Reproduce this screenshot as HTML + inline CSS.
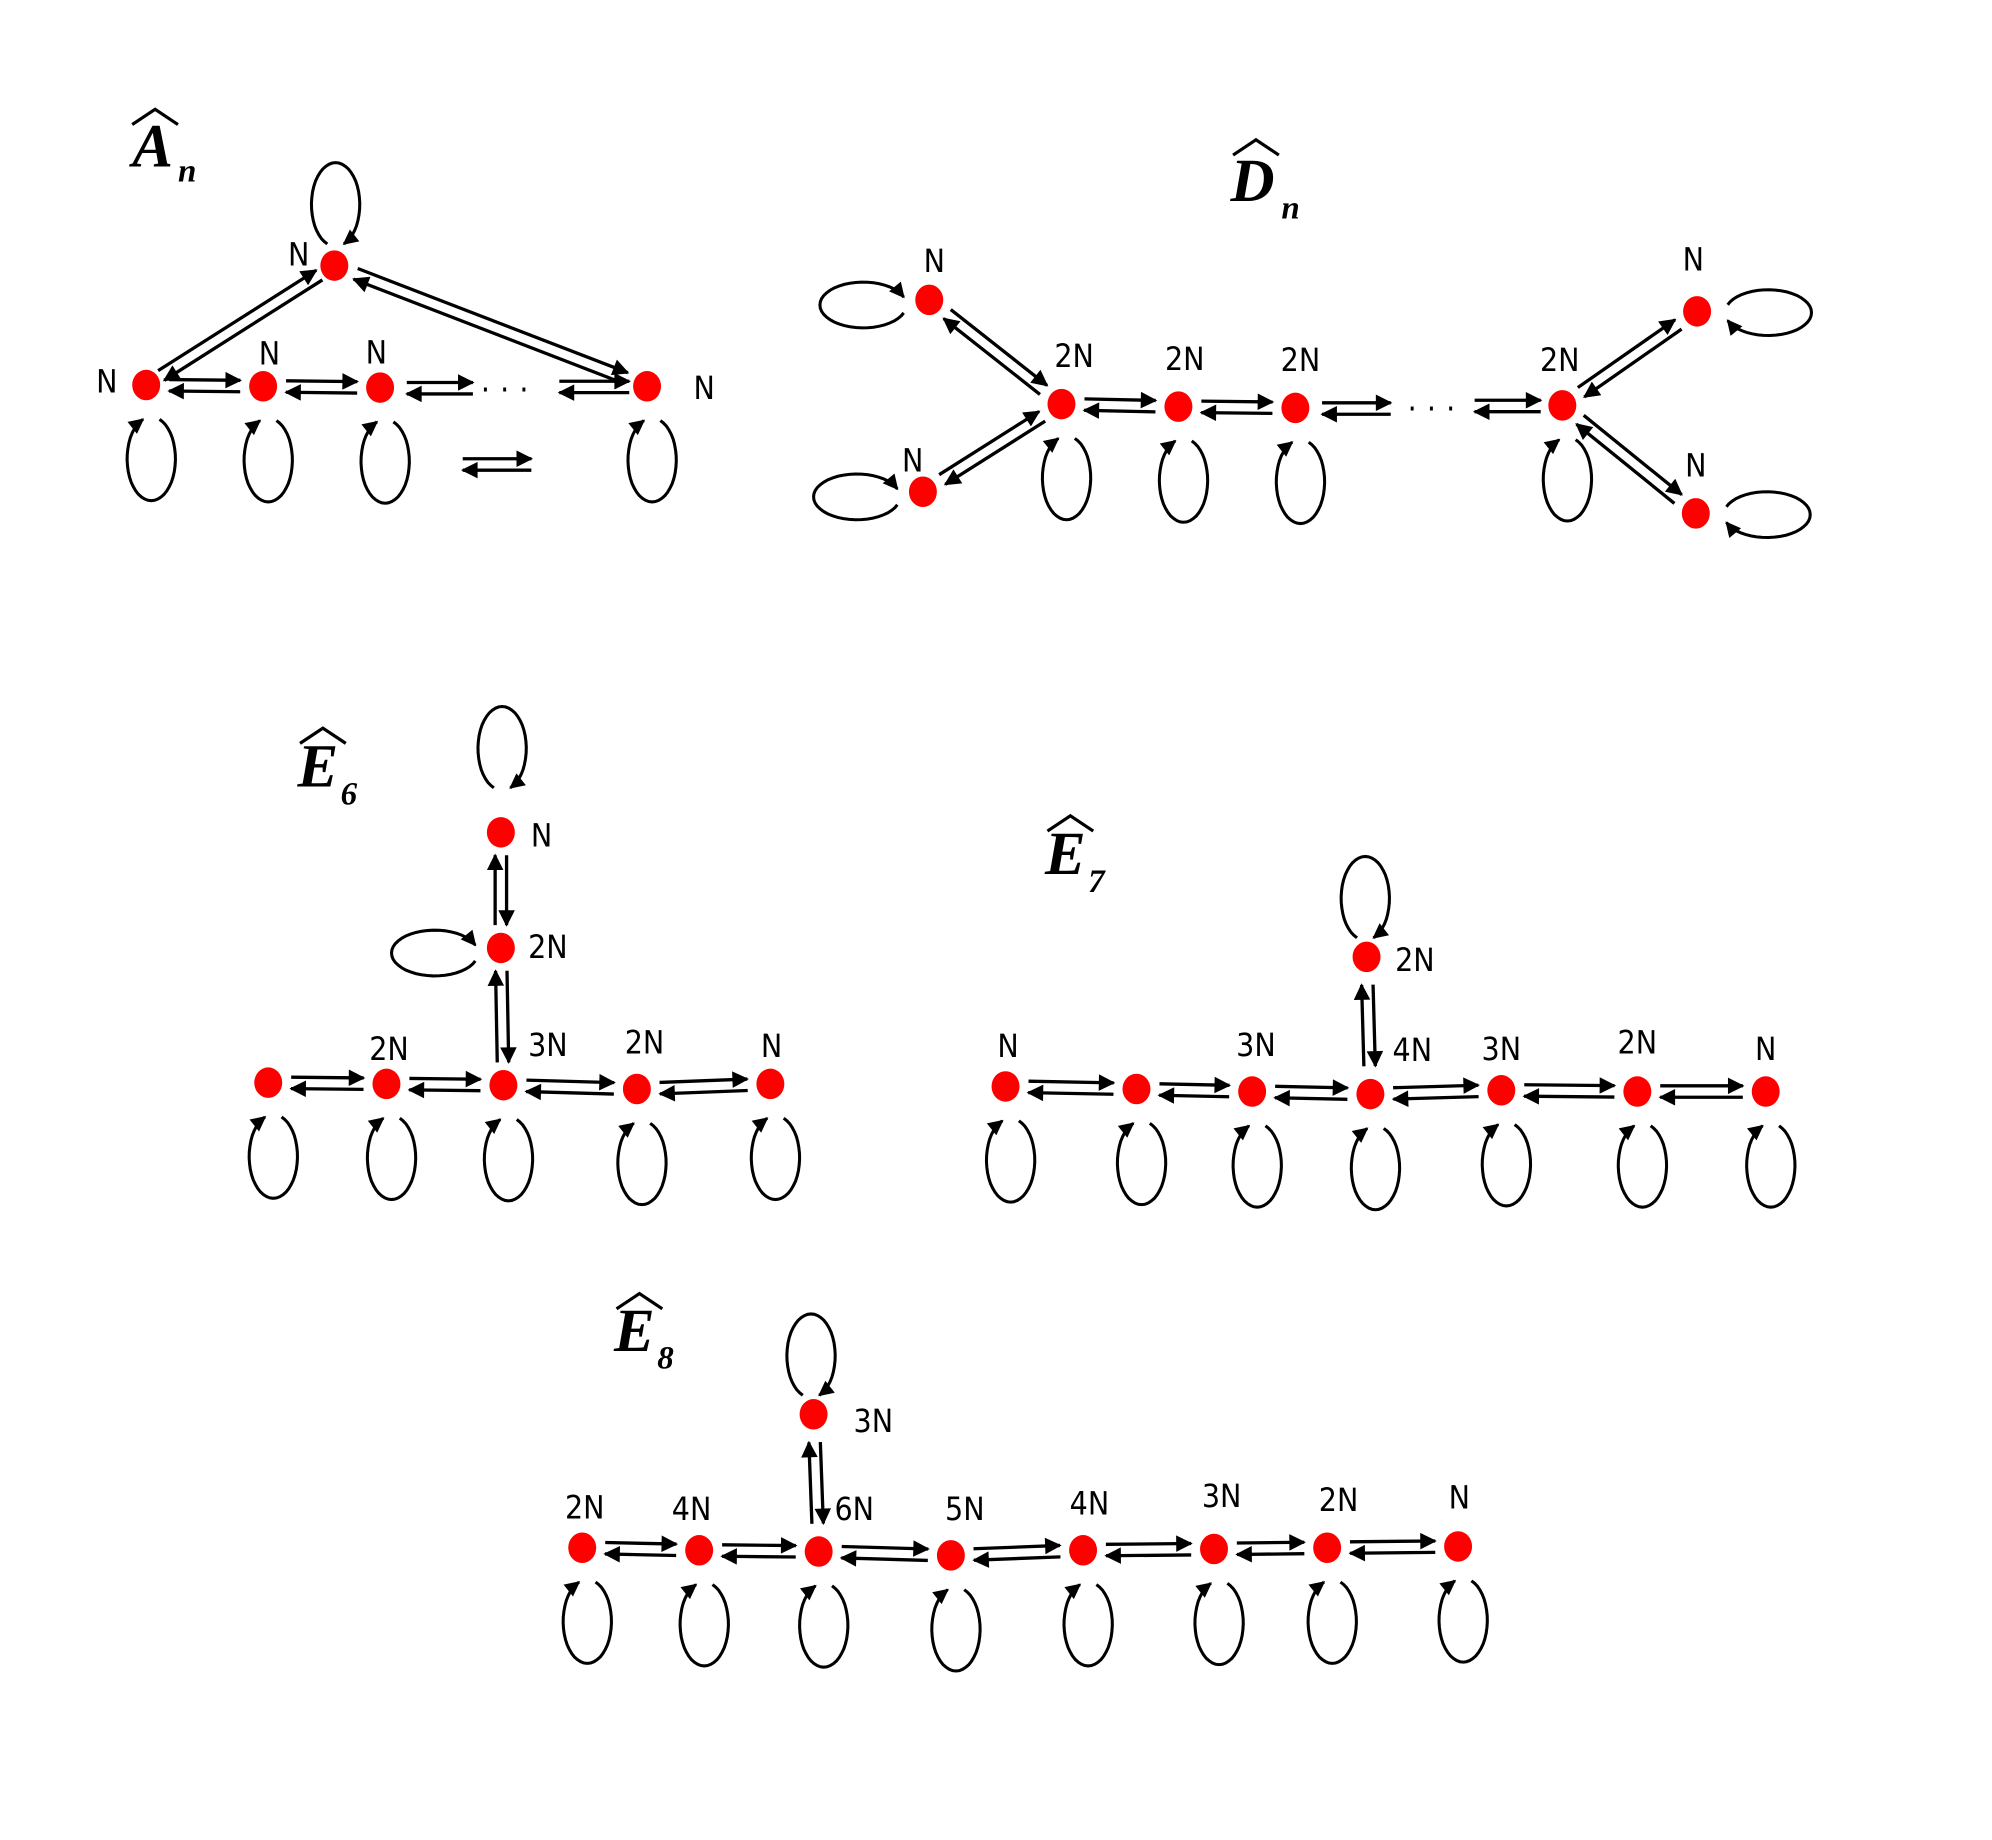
<!DOCTYPE html>
<html><head><meta charset="utf-8"><style>
html,body{margin:0;padding:0;background:#fff;}
svg{display:block}
.l{font-family:"DejaVu Sans Condensed","Liberation Sans Narrow","Liberation Sans",sans-serif;font-size:25px;fill:#000;text-anchor:middle}
.t{font-family:"Liberation Serif",serif;font-weight:bold;font-style:italic;font-size:48px;fill:#000}
.s{font-family:"Liberation Serif",serif;font-style:italic;font-weight:bold;font-size:26px;fill:#000}
</style></head><body>
<svg id="g" width="1992" height="1840" viewBox="0 0 1567 1448" preserveAspectRatio="none" xmlns="http://www.w3.org/2000/svg">
<defs><marker id="a" viewBox="0 0 10 10" refX="9" refY="5" markerWidth="6" markerHeight="5" markerUnits="strokeWidth" orient="auto"><path d="M0,0L10,5L0,10z" fill="#000"/></marker></defs>
<g fill="none" stroke="#000">
<path d="M104,98 L122,86 L140,98" stroke-width="2.5"/>
<path d="M970,122 L988,110 L1006,122" stroke-width="2.5"/>
<path d="M236,585 L254,573 L272,585" stroke-width="2.5"/>
<path d="M824,654 L842,642 L860,654" stroke-width="2.5"/>
<path d="M485,1030 L503,1018 L521,1030" stroke-width="2.5"/>
</g>
<text class="t" x="104" y="131">A</text><text class="s" x="140" y="143">n</text>
<text class="t" x="968" y="158">D</text><text class="s" x="1008" y="172">n</text>
<text class="t" x="234" y="619">E</text><text class="s" x="268" y="633">6</text>
<text class="t" x="822" y="688">E</text><text class="s" x="856" y="702">7</text>
<text class="t" x="483" y="1063">E</text><text class="s" x="517" y="1077">8</text>
<text class="l" x="235" y="209">N</text><text class="l" x="84" y="309">N</text><text class="l" x="212" y="287">N</text><text class="l" x="296" y="286">N</text><text class="l" x="554" y="314">N</text>
<text class="l" x="401" y="315" style="letter-spacing:8px">···</text>
<text class="l" x="735" y="214">N</text><text class="l" x="718" y="371">N</text>
<text class="l" x="845" y="289">2N</text><text class="l" x="932" y="291">2N</text><text class="l" x="1023" y="292">2N</text><text class="l" x="1227" y="292">2N</text>
<text class="l" x="1332" y="213">N</text><text class="l" x="1334" y="375">N</text>
<text class="l" x="1130" y="330" style="letter-spacing:8px">···</text>
<text class="l" x="426" y="666">N</text><text class="l" x="431" y="754">2N</text>
<text class="l" x="306" y="834">2N</text><text class="l" x="431" y="831">3N</text><text class="l" x="507" y="829">2N</text><text class="l" x="607" y="832">N</text>
<text class="l" x="793" y="832">N</text><text class="l" x="988" y="831">3N</text><text class="l" x="1111" y="835">4N</text><text class="l" x="1181" y="834">3N</text><text class="l" x="1288" y="829">2N</text><text class="l" x="1389" y="834">N</text><text class="l" x="1113" y="764">2N</text>
<text class="l" x="460" y="1195">2N</text><text class="l" x="544" y="1196">4N</text><text class="l" x="672" y="1196">6N</text><text class="l" x="759" y="1196">5N</text><text class="l" x="857" y="1192">4N</text><text class="l" x="961" y="1186">3N</text><text class="l" x="1053" y="1189">2N</text><text class="l" x="1148" y="1187">N</text><text class="l" x="687" y="1127">3N</text>
</svg>
<script>
var S=document.getElementById('g'),NS='http://www.w3.org/2000/svg';
function el(t,a){var e=document.createElementNS(NS,t);for(var k in a)e.setAttribute(k,a[k]);S.appendChild(e);return e;}
function ln(x1,y1,x2,y2){el('path',{d:'M'+x1+','+y1+'L'+x2+','+y2,stroke:'#000','stroke-width':2.6,fill:'none','marker-end':'url(#a)'});}
function pr(x1,y1,x2,y2,g){g=g||18;var dx=x2-x1,dy=y2-y1,L=Math.hypot(dx,dy),ux=dx/L,uy=dy/L,px=-uy*4.5,py=ux*4.5;
var ax=x1+ux*g,ay=y1+uy*g,bx=x2-ux*g,by=y2-uy*g;
ln(ax-px,ay-py,bx-px,by-py);ln(bx+px,by+py,ax+px,ay+py);}
function lp(cx,cy,rx,ry,a0,a1){a0*=Math.PI/180;a1*=Math.PI/180;var n=40,d='';for(var i=0;i<=n;i++){var a=a0+(a1-a0)*i/n;d+=(i?'L':'M')+(cx+rx*Math.cos(a)).toFixed(1)+','+(cy+ry*Math.sin(a)).toFixed(1);}
el('path',{d:d,stroke:'#000','stroke-width':2.4,fill:'none','marker-end':'url(#a)'});}
function below(x,y){lp(x+4,y+58,19,33,-70,250);}
function above(x,y,o){lp(x+1,y-(o||50),19,33,110,430);}
function left(x,y){lp(x-52,y+4,34,18,20,340);}
function right(x,y){lp(x+56,y+1,34,18,200,520);}
var N=[];function nd(x,y){N.push([x,y]);}
nd(263,209);nd(115,303);nd(207,304);nd(299,305);nd(509,304);
pr(115,303,263,209,14);pr(263,209,509,304,18);
pr(115,303,207,304);pr(207,304,299,305);
ln(320,301,372,301);ln(372,310,320,310);
ln(440,300,495,300);ln(495,309,440,309);
ln(364,361,418,361);ln(418,370,364,370);
above(263,209,48);below(115,303);below(207,304);below(299,305);below(509,304);
[[731,236],[726,387],[835,318],[927,320],[1019,321],[1229,319],[1335,245],[1334,404]].forEach(function(p){nd(p[0],p[1]);});
pr(731,236,835,318);pr(726,387,835,318);pr(835,318,927,320);pr(927,320,1019,321);
ln(1040,317,1094,317);ln(1094,326,1040,326);ln(1160,315,1212,315);ln(1212,324,1160,324);
pr(1229,319,1335,245);pr(1229,319,1334,404);
left(731,236);left(726,387);right(1335,245);right(1334,404);
below(835,318);below(927,320);below(1019,321);below(1229,319);
var r6=[[211,852],[304,853],[396,854],[501,857],[606,853]];
nd(394,655);nd(394,746);r6.forEach(function(p){nd(p[0],p[1]);below(p[0],p[1]);});
for(var i=0;i<4;i++)pr(r6[i][0],r6[i][1],r6[i+1][0],r6[i+1][1]);
pr(394,655,394,746);pr(394,746,396,854);above(394,655,66);left(394,746);
var r7=[[791,855],[894,857],[985,859],[1078,861],[1181,858],[1288,859],[1389,859]];
nd(1075,753);r7.forEach(function(p){nd(p[0],p[1]);below(p[0],p[1]);});
for(i=0;i<6;i++)pr(r7[i][0],r7[i][1],r7[i+1][0],r7[i+1][1]);
pr(1075,753,1078,861,22);above(1073,753,46);
var r8=[[458,1218],[550,1220],[644,1221],[748,1224],[852,1220],[955,1219],[1044,1218],[1147,1217]];
nd(640,1113);r8.forEach(function(p){nd(p[0],p[1]);below(p[0],p[1]);});
for(i=0;i<7;i++)pr(r8[i][0],r8[i][1],r8[i+1][0],r8[i+1][1]);
pr(640,1113,644,1221,22);above(637,1113,46);
N.forEach(function(p){el('ellipse',{cx:p[0],cy:p[1],rx:11,ry:12,fill:'#f00'});});
</script>
</body></html>
